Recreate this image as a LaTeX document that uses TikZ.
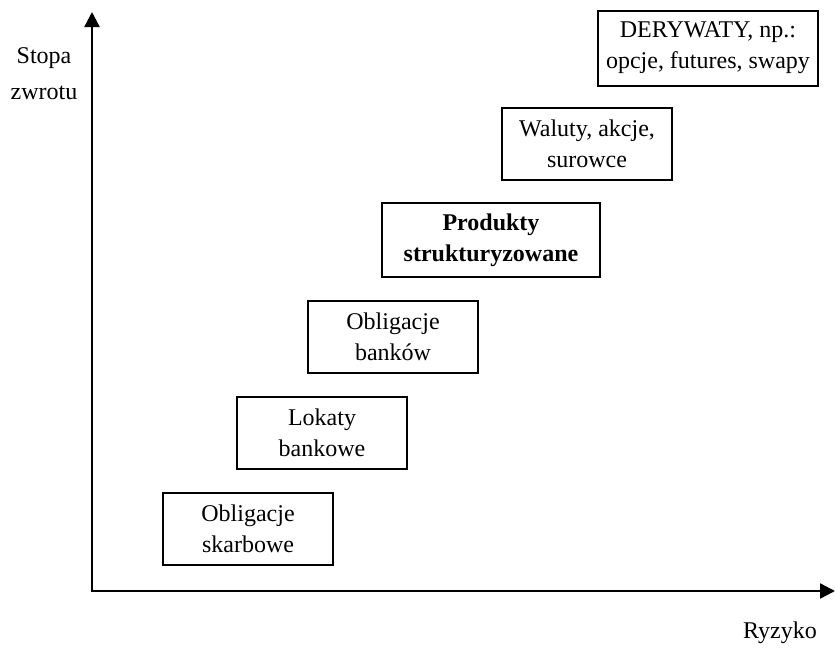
\documentclass[tikz,border=0pt]{standalone}
\usepackage{fontspec}
\setmainfont{Liberation Serif}
\usetikzlibrary{positioning,arrows.meta}

\begin{document}
\begin{tikzpicture}[
        x=1pt, y=-1pt,
        every node/.style={font=\fontsize{24}{36}\selectfont},
        box/.style={draw, line width=2pt, minimum width=170pt, minimum height=72pt, align=center, inner sep=0pt,
            font=\fontsize{24}{31}\selectfont, execute at begin node=\rule{0pt}{34pt}},
        widebox/.style={box, minimum width=218pt, minimum height=74pt},
        axis/.style={-{Triangle[length=15pt, width=15pt]}, line width=2.4pt}
    ]
        % Canvas
        \useasboundingbox (0,0) rectangle (835,648);

        % Axes
        \coordinate (origin) at (92,591);
        \coordinate (ytop) at (92,12);
        \coordinate (xend) at (835,591);
        \draw[axis] (origin) -- (ytop);
        \draw[axis] ([xshift=-1.2pt]origin) -- (xend);

        % Axis labels
        \node[align=center] (ylab) at (44,74) {Stopa\\zwrotu};
        \node (xlab) at (780,633) {Ryzyko};

        % Instruments, from low to high risk
        \node[box] (skarb) at (248,529) {Obligacje\\skarbowe};
        \node[box] (lokaty) at (322,433) {Lokaty\\bankowe};
        \node[box] (bankow) at (393,337) {Obligacje\\banków};
        \node[widebox] (produkty) at (491,240) {\textbf{Produkty}\\\textbf{strukturyzowane}};
        \node[box] (waluty) at (587,144) {Waluty, akcje,\\surowce};
        \node[widebox, minimum width=220pt, minimum height=75pt] (deryw) at (708,48) {DERYWATY, np.:\\opcje, futures, swapy};

    \end{tikzpicture}
\end{document}
